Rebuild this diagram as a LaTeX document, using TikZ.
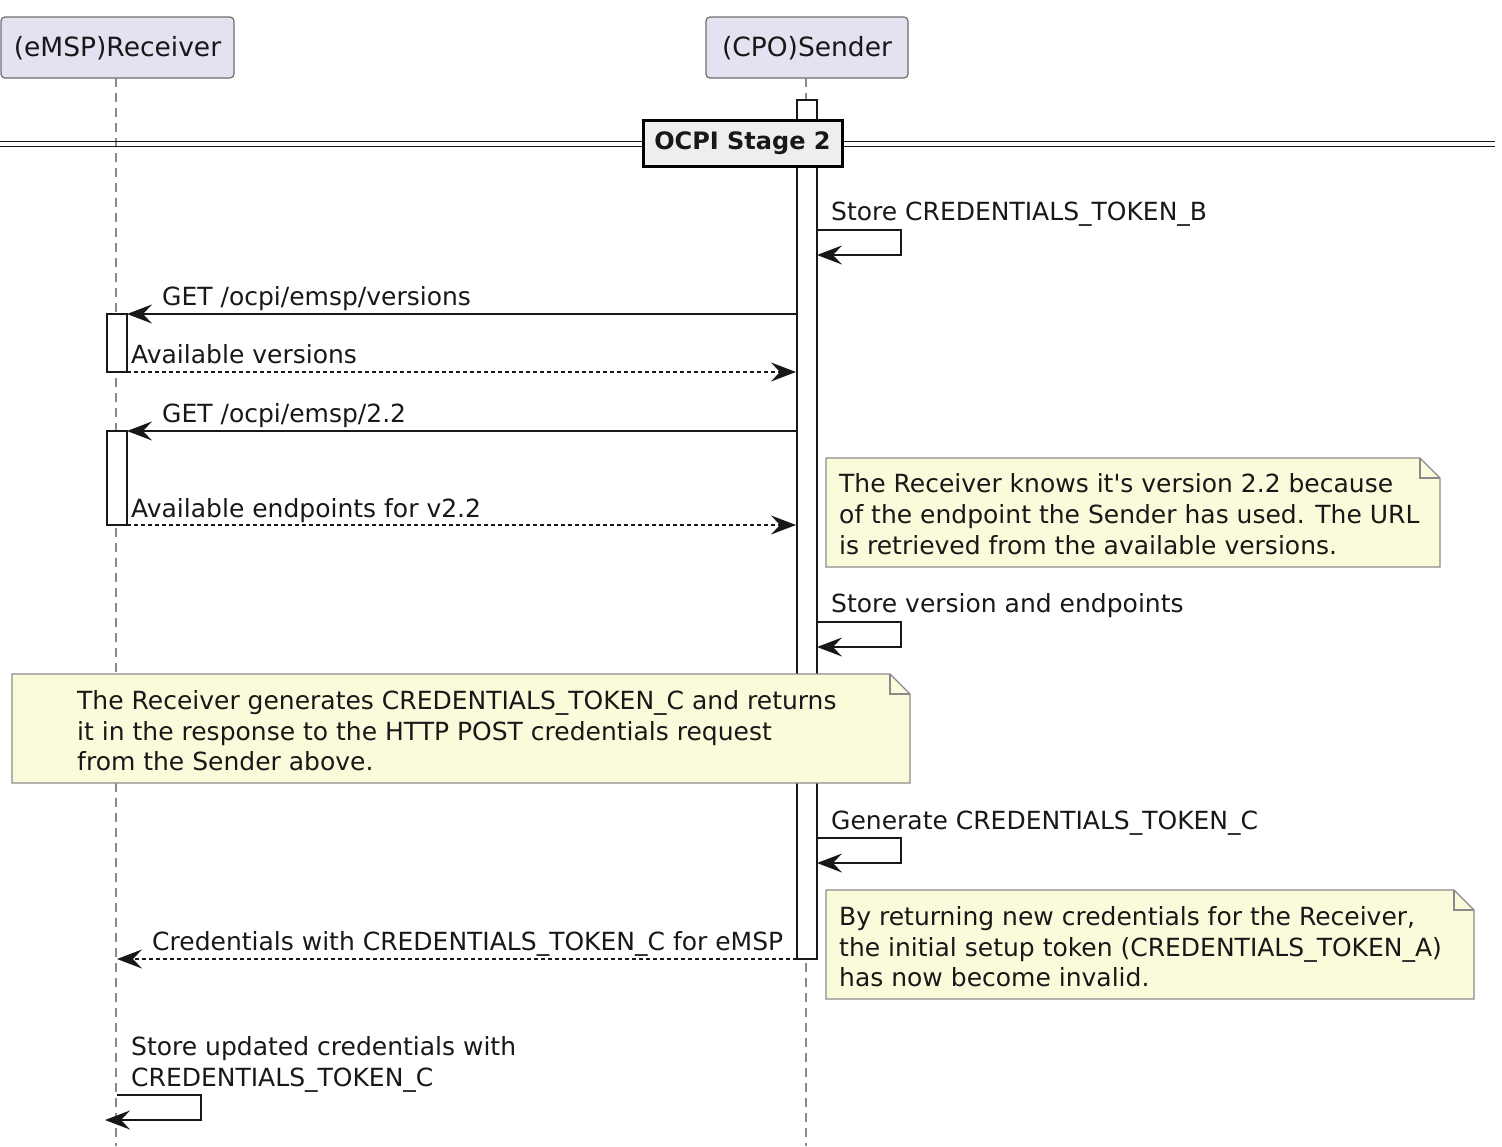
\documentclass[tikz,border=0pt]{standalone}
\usepackage{fontspec}
\setmainfont{DejaVu Sans}[Ligatures=TeXOff]
\usetikzlibrary{arrows.meta}
\definecolor{partfill}{HTML}{E2E2F0}
\definecolor{partline}{HTML}{6E6E6E}
\definecolor{lifegray}{HTML}{8A8A8A}
\definecolor{notefill}{HTML}{FBFBDC}
\definecolor{noteline}{HTML}{8A8A8A}
\definecolor{divfill}{HTML}{EEEEEE}
\definecolor{ink}{HTML}{181818}
\begin{document}
\begin{tikzpicture}[x=1pt,y=-1pt,
  every node/.style={font=\fontsize{25}{30}\selectfont, text=ink, inner sep=0pt},
  part/.style={draw=partline, line width=1.2pt, fill=partfill, rounded corners=4pt},
  life/.style={draw=lifegray, line width=1.5pt, dash pattern=on 9pt off 6pt},
  actbar/.style={draw=ink, line width=1.5pt, fill=white},
  msg/.style={draw=ink, line width=1.5pt, -{Stealth[length=25pt,width=19pt,inset=9pt]}},
  ret/.style={msg, dash pattern=on 4pt off 3pt},
  lbl/.style={anchor=base west},
  note/.style={draw=noteline, line width=1.2pt, fill=notefill},
  nline/.style={draw=noteline, line width=1.2pt}
]
\useasboundingbox (0,0) rectangle (1502,1146);

% participants
\draw[part] (1,17) rectangle (234,78);
\node[font=\fontsize{26.5}{30}\selectfont] (rcv) at (117.5,48) {(eMSP)Receiver};
\draw[part] (706,17) rectangle (908,78);
\node[font=\fontsize{26.5}{30}\selectfont] (snd) at (807,48) {(CPO)Sender};

% lifelines
\coordinate (rtop) at (116,78);
\coordinate (rbot) at (116,1146);
\coordinate (stop) at (806,78);
\coordinate (sbot) at (806,1146);
\draw[life] (rtop) -- (rbot);
\draw[life] (stop) -- (sbot);

% activations
\draw[actbar] (797,100) rectangle (817,959);
\draw[actbar] (107,314) rectangle (127,372);
\draw[actbar] (107,431) rectangle (127,525);

% divider
\draw[ink, line width=1.8pt] (0,141.5) -- (1495,141.5);
\draw[ink, line width=1.8pt] (0,146.5) -- (1495,146.5);
\node[draw=black, line width=3pt, fill=divfill, minimum width=199pt, minimum height=46pt, font=\fontsize{24}{30}\selectfont\bfseries] (div) at (742.5,143) {OCPI Stage 2};

% Store CREDENTIALS_TOKEN_B
\node[lbl] (l1) at (831,220) {Store CREDENTIALS\_TOKEN\_B};
\coordinate (a1) at (817,230);
\coordinate (b1) at (901,230);
\coordinate (c1) at (901,255);
\coordinate (d1) at (817,255);
\draw[msg] (a1) -- (b1) -- (c1) -- (d1);

% GET versions
\node[lbl] (l2) at (162,305) {GET /ocpi/emsp/versions};
\coordinate (a2) at (796,314);
\coordinate (b2) at (127,314);
\draw[msg] (a2) -- (b2);

\node[lbl] (l3) at (131,363) {Available versions};
\coordinate (a3) at (127,372);
\coordinate (b3) at (796,372);
\draw[ret] (a3) -- (b3);

\node[lbl] (l4) at (162,422) {GET /ocpi/emsp/2.2};
\coordinate (a4) at (796,431);
\coordinate (b4) at (127,431);
\draw[msg] (a4) -- (b4);

\node[lbl] (l5) at (131,517) {Available endpoints for v2.2};
\coordinate (a5) at (127,525);
\coordinate (b5) at (796,525);
\draw[ret] (a5) -- (b5);

% note 1
\draw[note] (826,458) -- (1420,458) -- (1440,478) -- (1440,567) -- (826,567) -- cycle;
\draw[nline] (1420,458) -- (1420,478) -- (1440,478);
\node[lbl] (n1a) at (839,492) {The Receiver knows it's version 2.2 because};
\node[lbl] (n1b) at (839,523) {of the endpoint the Sender has used. The URL};
\node[lbl] (n1c) at (839,554) {is retrieved from the available versions.};

% Store version and endpoints
\node[lbl] (l6) at (831,612) {Store version and endpoints};
\coordinate (a6) at (817,622);
\coordinate (b6) at (901,622);
\coordinate (c6) at (901,647);
\coordinate (d6) at (817,647);
\draw[msg] (a6) -- (b6) -- (c6) -- (d6);

% note 2
\draw[note] (12,674) -- (890,674) -- (910,694) -- (910,783) -- (12,783) -- cycle;
\draw[nline] (890,674) -- (890,694) -- (910,694);
\node[lbl] (n2a) at (77,709) {The Receiver generates CREDENTIALS\_TOKEN\_C and returns};
\node[lbl] (n2b) at (77,740) {it in the response to the HTTP POST credentials request};
\node[lbl] (n2c) at (77,770) {from the Sender above.};

% Generate
\node[lbl] (l7) at (831,829) {Generate CREDENTIALS\_TOKEN\_C};
\coordinate (a7) at (817,838);
\coordinate (b7) at (901,838);
\coordinate (c7) at (901,863);
\coordinate (d7) at (817,863);
\draw[msg] (a7) -- (b7) -- (c7) -- (d7);

% note 3
\draw[note] (826,890) -- (1454,890) -- (1474,910) -- (1474,999) -- (826,999) -- cycle;
\draw[nline] (1454,890) -- (1454,910) -- (1474,910);
\node[lbl] (n3a) at (839,925) {By returning new credentials for the Receiver,};
\node[lbl] (n3b) at (839,956) {the initial setup token (CREDENTIALS\_TOKEN\_A)};
\node[lbl] (n3c) at (839,986) {has now become invalid.};

% credentials return
\node[lbl] (l8) at (152,950) {Credentials with CREDENTIALS\_TOKEN\_C for eMSP};
\coordinate (a8) at (797,959);
\coordinate (b8) at (117,959);
\draw[ret] (a8) -- (b8);

% store updated
\node[lbl] (l9) at (131,1055) {Store updated credentials with};
\node[lbl] (l10) at (131,1086) {CREDENTIALS\_TOKEN\_C};
\coordinate (a9) at (117,1095);
\coordinate (b9) at (201,1095);
\coordinate (c9) at (201,1120);
\coordinate (d9) at (105,1120);
\draw[msg] (a9) -- (b9) -- (c9) -- (d9);
\end{tikzpicture}
\end{document}
